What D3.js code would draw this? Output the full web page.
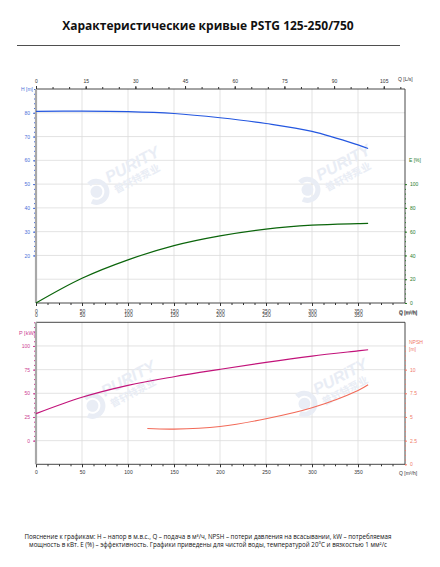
<!DOCTYPE html>
<html><head><meta charset="utf-8">
<script src="https://cdn.jsdelivr.net/npm/d3@7"></script>
<style>
body{margin:0;background:#fff;}
svg{display:block;}
</style></head><body>
<script>
// ---- data ----
const qTicks = [0, 50, 100, 150, 200, 250, 300, 350];
const lsTicks = [0, 15, 30, 45, 60, 75, 90, 105];
const hTicks = [20, 30, 40, 50, 60, 70, 80];
const eTicks = [0, 20, 40, 60, 80, 100];
const pTicks = [0, 25, 50, 75, 100];
const npshTicks = [0, 2.5, 5, 7.5, 10];

const qMain = [0, 50, 100, 150, 200, 250, 300, 350, 361];
const headH = [80.6, 80.7, 80.5, 79.7, 77.9, 75.5, 72.2, 66.5, 65.0];
const effE  = [0, 20.8, 36.3, 48.3, 56.5, 62.2, 65.5, 66.8, 67.0];
const powerP = [28.5, 45.8, 58.4, 67.5, 75.3, 82.7, 89.3, 94.8, 96.0];
const qNpsh = [121, 150, 200, 250, 300, 350, 361];
const npshV = [3.78, 3.72, 4.0, 4.81, 5.97, 7.8, 8.4];

(function () {
const W = 440, H = 567;
const svg = d3.select("body").append("svg").attr("width", W).attr("height", H)
  .style("font-family", "'Liberation Sans', Arial, sans-serif");
const gridLayer = svg.append("g");
const wmLayer = svg.append("g");
const main = svg.append("g");

// title
main.append("text").attr("x", 208).attr("y", 30).attr("text-anchor", "middle")
  .style("font-family", "'Open Sans', sans-serif").style("font-weight", "700").style("font-size", "12px")
  .attr("fill", "#111").text("Характеристические кривые PSTG 125-250/750");
main.append("line").attr("x1", 17).attr("x2", 400).attr("y1", 45.5).attr("y2", 45.5)
  .attr("stroke", "#222").attr("stroke-width", 0.8);

const X0 = 36, X1 = 405;
const x = d3.scaleLinear().domain([0, 400]).range([X0, X0 + 368]);
const xLs = d3.scaleLinear().domain([0, 400 / 3.6]).range([X0, X0 + 368]);
const grid = "#dcdcdc";

// ---- watermarks ----
const wmCol = "#e9edf5";
function watermark(cx, cy) {
  const g = wmLayer.append("g").attr("transform", `translate(${cx},${cy}) rotate(-28)`);
  const arc = d3.arc().innerRadius(8).outerRadius(13).startAngle(-0.3).endAngle(Math.PI * 1.3);
  g.append("path").attr("transform", "translate(-30,2)").attr("d", arc()).attr("fill", wmCol);
  g.append("path").attr("transform", "translate(-30,2)")
    .attr("d", d3.arc().innerRadius(0).outerRadius(6).startAngle(0).endAngle(Math.PI * 2)()).attr("fill", wmCol);
  g.append("text").attr("x", -15).attr("y", 0).style("font-size", "16px").style("font-weight", "700")
    .style("font-style", "italic").attr("fill", wmCol).text("PURITY");
  g.append("text").attr("x", -13).attr("y", 13).style("font-size", "10px").style("font-weight", "700")
    .style("font-family", "'Noto Sans CJK SC'").attr("fill", wmCol).text("普轩特泵业");
}
watermark(122, 176); watermark(333, 174); watermark(118, 390); watermark(330, 388);

const line = (xs, ys, xsc, ysc) => d3.line().curve(d3.curveCatmullRom.alpha(0.5)).x((d, i) => xsc(xs[i])).y(d => ysc(d))(ys);

// ---------- TOP CHART ----------
const T0 = 89, T1 = 303;
const yH = d3.scaleLinear().domain([0, 90]).range([T1, T0]);
const yE = d3.scaleLinear().domain([0, 180]).range([T1, T0]);
qTicks.filter(d => d > 0).forEach(d => gridLayer.append("line").attr("x1", x(d)).attr("x2", x(d)).attr("y1", T0).attr("y2", T1).attr("stroke", grid).attr("stroke-width", 0.8));
d3.range(10, 90, 10).forEach(d => gridLayer.append("line").attr("x1", X0).attr("x2", X1).attr("y1", yH(d)).attr("y2", yH(d)).attr("stroke", grid).attr("stroke-width", 0.8));
const topG = main.append("g");

const axTop = topG.append("g").attr("transform", `translate(0,${T0})`)
  .call(d3.axisTop(xLs).tickValues(lsTicks).tickSize(3).tickFormat(d3.format("d")));
const axTopMinor = topG.append("g").attr("transform", `translate(0,${T0})`)
  .call(d3.axisTop(xLs).tickValues(d3.range(0, 111, 5)).tickSize(2).tickFormat(""));
topG.append("line").attr("x1", X0).attr("x2", X1).attr("y1", T0).attr("y2", T0).attr("stroke", "#333").attr("stroke-width", 0.9);
topG.append("text").attr("x", 398).attr("y", 81).style("font-size", "5px").attr("fill", "#333").text("Q [L/s]");

const axBot = topG.append("g").attr("transform", `translate(0,${T1})`)
  .call(d3.axisBottom(x).tickValues(qTicks).tickSize(3).tickFormat(d3.format("d")));
const axBotMinor = topG.append("g").attr("transform", `translate(0,${T1})`)
  .call(d3.axisBottom(x).tickValues(d3.range(0, 400, 12.5)).tickSize(2).tickFormat(""));
topG.append("line").attr("x1", X0).attr("x2", X1).attr("y1", T1).attr("y2", T1).attr("stroke", "#333").attr("stroke-width", 0.9);
topG.append("text").attr("x", 399).attr("y", 314).style("font-size", "5px").attr("fill", "#333").text("Q [m³/h]");

const hCol = "#4a6fd8";
topG.append("line").attr("x1", X0).attr("x2", X0).attr("y1", T0).attr("y2", T1).attr("stroke", "#a8a8a8").attr("stroke-width", 2.2);
const axH = topG.append("g").attr("transform", `translate(${X0 - 1},0)`)
  .call(d3.axisLeft(yH).tickValues(hTicks).tickSize(2).tickFormat(d3.format("d")));
topG.append("g").attr("transform", `translate(${X0 - 1},0)`)
  .call(d3.axisLeft(yH).tickValues(d3.range(20, 91, 2)).tickSize(1).tickFormat(""))
  .selectAll("line").attr("stroke", hCol);
topG.append("text").attr("x", 21).attr("y", 91).style("font-size", "5px").attr("fill", hCol).text("H [m]");

const eCol = "#2a7a2a";
topG.append("line").attr("x1", X1).attr("x2", X1).attr("y1", T0).attr("y2", T1).attr("stroke", "#333").attr("stroke-width", 0.9);
const axE = topG.append("g").attr("transform", `translate(${X1},0)`)
  .call(d3.axisRight(yE).tickValues(eTicks).tickSize(2).tickFormat(d3.format("d")));
topG.append("g").attr("transform", `translate(${X1},0)`)
  .call(d3.axisRight(yE).tickValues(d3.range(0, 101, 4)).tickSize(1).tickFormat(""))
  .selectAll("line").attr("stroke", eCol);
topG.append("text").attr("x", 409).attr("y", 162).style("font-size", "5px").attr("fill", eCol).text("E [%]");

topG.append("path").attr("d", line(qMain, headH, x, yH)).attr("fill", "none").attr("stroke", "#2457e0").attr("stroke-width", 1.2);
topG.append("path").attr("d", line(qMain, effE, x, yE)).attr("fill", "none").attr("stroke", "#0b650b").attr("stroke-width", 1.2);

// ---------- BOTTOM CHART ----------
const B0 = 322.3, B1 = 464.3;
const yP = d3.scaleLinear().domain([-25, 125]).range([B1, B0]);
const yN = d3.scaleLinear().domain([0, 15]).range([B1, B0]);
qTicks.filter(d => d > 0).forEach(d => gridLayer.append("line").attr("x1", x(d)).attr("x2", x(d)).attr("y1", B0).attr("y2", B1).attr("stroke", grid).attr("stroke-width", 0.8));
[0, 25, 50, 75, 100].forEach(d => gridLayer.append("line").attr("x1", X0).attr("x2", X1).attr("y1", yP(d)).attr("y2", yP(d)).attr("stroke", grid).attr("stroke-width", 0.8));
const bot = main.append("g");

const axBT = bot.append("g").attr("transform", `translate(0,${B0})`)
  .call(d3.axisTop(x).tickValues(qTicks).tickSize(0).tickPadding(5).tickFormat(d3.format("d")));
bot.append("line").attr("x1", X0).attr("x2", X1).attr("y1", B0).attr("y2", B0).attr("stroke", "#333").attr("stroke-width", 0.9);
bot.append("text").attr("x", 399).attr("y", 315).style("font-size", "5px").attr("fill", "#333").text("Q [m³/h]");

const axBB = bot.append("g").attr("transform", `translate(0,${B1})`)
  .call(d3.axisBottom(x).tickValues(qTicks).tickSize(3).tickFormat(d3.format("d")));
const axBBMinor = bot.append("g").attr("transform", `translate(0,${B1})`)
  .call(d3.axisBottom(x).tickValues(d3.range(0, 400, 12.5)).tickSize(2).tickFormat(""));
bot.append("line").attr("x1", X0).attr("x2", X1).attr("y1", B1).attr("y2", B1).attr("stroke", "#333").attr("stroke-width", 0.9);
bot.append("text").attr("x", 399).attr("y", 475).style("font-size", "5px").attr("fill", "#333").text("Q [m³/h]");

const pCol = "#cc3d93";
bot.append("line").attr("x1", X0).attr("x2", X0).attr("y1", B0).attr("y2", B1).attr("stroke", "#a8a8a8").attr("stroke-width", 2.2);
const axP = bot.append("g").attr("transform", `translate(${X0 - 1},0)`)
  .call(d3.axisLeft(yP).tickValues(pTicks).tickSize(2).tickFormat(d3.format("d")));
bot.append("g").attr("transform", `translate(${X0 - 1},0)`)
  .call(d3.axisLeft(yP).tickValues(d3.range(0, 126, 5)).tickSize(1).tickFormat(""))
  .selectAll("line").attr("stroke", pCol);
bot.append("text").attr("x", 19).attr("y", 335).style("font-size", "5.5px").attr("fill", pCol).text("P [kW]");

const nCol = "#f07a68";
bot.append("line").attr("x1", X1).attr("x2", X1).attr("y1", B0).attr("y2", B1).attr("stroke", "#333").attr("stroke-width", 0.9);
const axN = bot.append("g").attr("transform", `translate(${X1},0)`)
  .call(d3.axisRight(yN).tickValues(npshTicks).tickSize(2).tickFormat(d => String(d)));
bot.append("g").attr("transform", `translate(${X1},0)`)
  .call(d3.axisRight(yN).tickValues(d3.range(0, 12.6, 0.5)).tickSize(1).tickFormat(""))
  .selectAll("line").attr("stroke", nCol);
bot.append("text").attr("x", 409).attr("y", 344).style("font-size", "5px").attr("fill", nCol).text("NPSH");
bot.append("text").attr("x", 409).attr("y", 351).style("font-size", "5px").attr("fill", nCol).text("[m]");

bot.append("path").attr("d", line(qMain, powerP, x, yP)).attr("fill", "none").attr("stroke", "#c2137a").attr("stroke-width", 1.2);
bot.append("path").attr("d", line(qNpsh, npshV, x, yN)).attr("fill", "none").attr("stroke", "#f26a58").attr("stroke-width", 1.1);

// axis styling
svg.selectAll(".domain").remove();
svg.selectAll(".tick text").style("font-size", "5px").attr("fill", "#333");
[axTop, axBot, axBT, axBB, axTopMinor, axBotMinor, axBBMinor].forEach(a => a.selectAll(".tick line").attr("stroke", "#333"));
axH.selectAll(".tick text").attr("fill", hCol); axH.selectAll(".tick line").attr("stroke", hCol);
axE.selectAll(".tick text").attr("fill", eCol); axE.selectAll(".tick line").attr("stroke", eCol);
axP.selectAll(".tick text").attr("fill", pCol); axP.selectAll(".tick line").attr("stroke", pCol);
axN.selectAll(".tick text").attr("fill", nCol); axN.selectAll(".tick line").attr("stroke", nCol);

const foot = main.append("g").style("font-family", "'Open Sans', sans-serif").style("font-size", "6.2px").attr("fill", "#111");
foot.append("text").attr("x", 208).attr("y", 539).attr("text-anchor", "middle")
  .text("Пояснение к графикам: H – напор в м.в.с., Q – подача в м³/ч, NPSH – потери давления на всасывании, kW – потребляемая");
foot.append("text").attr("x", 208).attr("y", 546.5).attr("text-anchor", "middle")
  .text("мощность в кВт. E (%) – эффективность.  Графики приведены для чистой воды, температурой 20°C и вязкостью 1 мм²/с");
})();
</script>
</body></html>
